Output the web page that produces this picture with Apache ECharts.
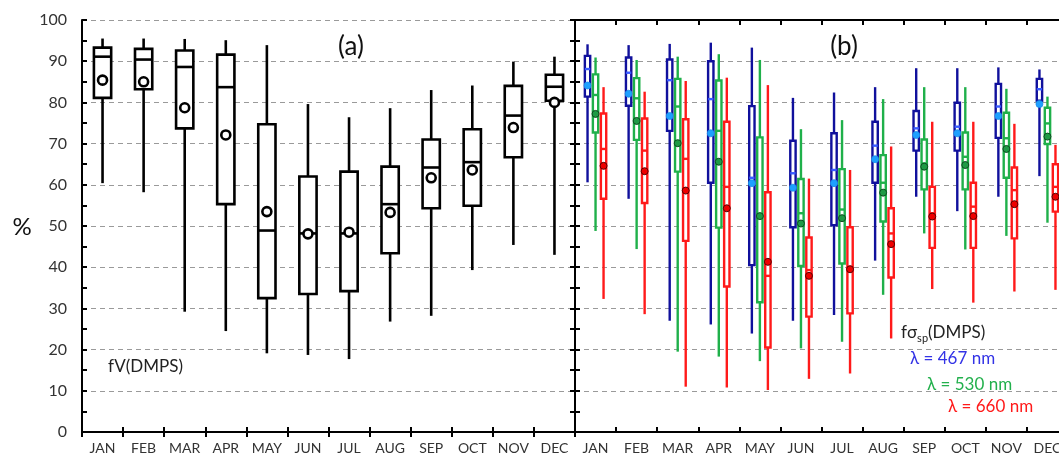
<!DOCTYPE html>
<html>
<head>
<meta charset="utf-8">
<script src="https://cdn.jsdelivr.net/npm/echarts@6/dist/echarts.min.js"></script>
<style>html,body{margin:0;padding:0;background:#fff;}#c{width:1059px;height:454px;}</style>
</head>
<body>
<div id="c"></div>
<script>
// ---------- data ----------
const months = ['JAN','FEB','MAR','APR','MAY','JUN','JUL','AUG','SEP','OCT','NOV','DEC'];
const yTicks = [0,10,20,30,40,50,60,70,80,90,100];

// [min, q1, median, q3, max] per month
const fvBox = [
  [60.4, 81.1, 91.1, 93.3, 95.5],
  [58.2, 83.2, 90.4, 93.0, 95.5],
  [29.2, 73.7, 88.6, 92.6, 95.4],
  [24.5, 55.3, 83.7, 91.6, 95.1],
  [19.1, 32.5, 48.9, 74.7, 93.9],
  [18.7, 33.5, 48.2, 62.0, 79.6],
  [17.7, 34.2, 48.2, 63.2, 76.4],
  [26.8, 43.4, 55.3, 64.4, 78.6],
  [28.2, 54.3, 64.2, 71.0, 83.0],
  [39.3, 54.9, 65.5, 73.5, 84.1],
  [45.4, 66.7, 76.8, 84.0, 89.9],
  [43.0, 80.4, 83.8, 86.7, 91.1]
];
const fvMean = [85.4, 85.0, 78.7, 72.1, 53.5, 48.1, 48.5, 53.3, 61.7, 63.6, 73.9, 80.0];

const b467Box = [
  [60.6, 81.4, 88.1, 91.3, 94.1],
  [56.6, 79.2, 87.2, 90.9, 93.9],
  [27.0, 73.1, 85.4, 90.4, 94.2],
  [26.1, 60.5, 80.8, 90.0, 94.5],
  [23.9, 40.5, 61.7, 79.1, 93.3],
  [27.0, 49.7, 62.8, 70.7, 81.1],
  [28.4, 50.2, 63.6, 72.5, 82.4],
  [41.6, 60.5, 69.5, 75.3, 83.7],
  [57.1, 68.3, 73.7, 77.9, 88.3],
  [53.6, 68.3, 74.1, 79.9, 88.3],
  [57.1, 71.4, 79.0, 84.5, 88.5],
  [62.1, 80.4, 83.2, 85.7, 88.0]
];
const b467Mean = [84.1, 82.1, 76.7, 72.5, 60.4, 59.3, 60.4, 66.2, 72.1, 72.5, 76.7, 79.6];

const b530Box = [
  [48.8, 72.7, 81.8, 86.8, 90.9],
  [44.4, 70.9, 81.0, 85.9, 90.3],
  [19.5, 63.2, 79.0, 85.7, 91.1],
  [18.3, 49.6, 73.1, 85.3, 91.7],
  [17.2, 31.5, 52.5, 71.5, 90.3],
  [20.3, 40.3, 53.1, 61.4, 73.5],
  [21.9, 40.9, 54.0, 63.8, 75.7],
  [33.3, 51.1, 60.5, 67.2, 80.8],
  [48.2, 58.9, 65.2, 71.0, 83.7],
  [44.3, 58.9, 66.8, 72.7, 83.7],
  [47.6, 61.7, 71.3, 77.5, 83.3],
  [50.8, 69.9, 74.9, 78.7, 81.4]
];
const b530Mean = [77.2, 75.5, 70.1, 65.6, 52.4, 50.6, 51.9, 58.1, 64.4, 64.8, 68.7, 71.7];

const b660Box = [
  [32.3, 56.6, 68.7, 77.3, 83.7],
  [28.6, 55.6, 68.3, 76.1, 82.6],
  [11.0, 46.4, 66.3, 75.9, 85.2],
  [10.8, 35.3, 59.5, 75.3, 86.0],
  [10.2, 20.5, 37.9, 58.2, 84.2],
  [12.9, 28.0, 39.3, 47.2, 61.5],
  [14.2, 28.8, 40.1, 49.7, 63.6],
  [22.7, 37.5, 48.2, 54.3, 69.3],
  [34.7, 44.7, 53.1, 59.5, 75.3],
  [31.4, 44.7, 54.7, 60.5, 75.3],
  [34.1, 47.0, 58.7, 64.2, 74.8],
  [34.5, 53.5, 59.5, 65.0, 69.7]
];
const b660Mean = [64.6, 63.3, 58.6, 54.3, 41.3, 37.9, 39.5, 45.6, 52.3, 52.4, 55.3, 57.1];

// ---------- chart ----------
const chart = echarts.init(document.getElementById('c'), null, {renderer: 'canvas'});
const FONT = 'Lato, "Open Sans", sans-serif';

function toItems(box, mean) {
  return box.map((b, i) => [i, b[0], b[1], b[2], b[3], b[4], mean[i]]);
}

function makeBoxRender(cfg) {
  return function (params, api) {
    const i = api.value(0);
    const bw = api.size([1, 0])[0];
    const cx = api.coord([i, 0])[0] + cfg.offset * bw;
    const half = cfg.width * bw / 2;
    const y = k => api.coord([i, api.value(k)])[1];
    const yMin = y(1), yQ1 = y(2), yMed = y(3), yQ3 = y(4), yMax = y(5), yMean = y(6);
    const ls = {stroke: cfg.color, lineWidth: cfg.lw};
    return {
      type: 'group',
      children: [
        {type: 'line', shape: {x1: cx, y1: yMax, x2: cx, y2: yQ3}, style: ls},
        {type: 'line', shape: {x1: cx, y1: yQ1, x2: cx, y2: yMin}, style: ls},
        {type: 'rect', shape: {x: cx - half, y: yQ3, width: half * 2, height: yQ1 - yQ3},
          style: {fill: '#fff', stroke: cfg.color, lineWidth: cfg.lw}},
        {type: 'line', shape: {x1: cx - half, y1: yMed, x2: cx + half, y2: yMed},
          style: {stroke: cfg.medColor, lineWidth: cfg.lw}},
        {type: 'circle', shape: {cx: cx, cy: yMean, r: cfg.r},
          style: {fill: cfg.meanFill, stroke: cfg.meanStroke, lineWidth: cfg.meanLw}}
      ]
    };
  };
}

const gridLine = {show: true, lineStyle: {color: '#9a9a9a', type: [5, 4], width: 1.2}};
const axisLineBlack = {show: true, lineStyle: {color: '#000', width: 2}};

function xAxisDef(gi, pos, labels) {
  return {
    type: 'category', gridIndex: gi, position: pos, data: months,
    boundaryGap: true,
    axisLine: axisLineBlack,
    axisTick: {show: true, inside: true, length: 5, interval: 0, lineStyle: {color: '#000', width: 2}},
    axisLabel: {show: labels, interval: 0, color: '#333', fontSize: 14, fontFamily: FONT, margin: 9},
    splitLine: {show: false}
  };
}
function yAxisDef(gi, pos, labels, split) {
  return {
    type: 'value', gridIndex: gi, position: pos, min: 0, max: 100, interval: 10,
    axisLine: axisLineBlack,
    axisTick: {show: true, inside: true, length: 5, lineStyle: {color: '#000', width: 2}},
    minorTick: {show: true, splitNumber: 2, length: 5, lineStyle: {color: '#000', width: 2}},
    axisLabel: {show: labels, color: '#333', fontSize: 16, fontFamily: FONT, margin: 15,
      formatter: v => (yTicks.indexOf(v) >= 0 ? String(v) : '')},
    splitLine: split ? gridLine : {show: false}
  };
}

const BLUE = '#10109c', GREEN = '#1fb04a', RED = '#ff1a1a';

const option = {
  backgroundColor: '#fff',
  animation: false,
  grid: [
    {left: 82, top: 20, width: 493, height: 412, outerBoundsMode: 'none', containLabel: false},
    {left: 575, top: 20, width: 493, height: 412, outerBoundsMode: 'none', containLabel: false}
  ],
  xAxis: [
    xAxisDef(0, 'bottom', true), xAxisDef(0, 'top', false),
    xAxisDef(1, 'bottom', true), xAxisDef(1, 'top', false)
  ],
  yAxis: [
    yAxisDef(0, 'left', true, true),
    yAxisDef(0, 'right', false, false),
    yAxisDef(1, 'left', false, true)
  ],
  series: [
    {type: 'custom', xAxisIndex: 0, yAxisIndex: 0, encode: {x: 0, y: [1, 2, 3, 4, 5, 6]},
      data: toItems(fvBox, fvMean),
      renderItem: makeBoxRender({offset: 0, width: 0.42, color: '#000', medColor: '#000', lw: 2.6,
        r: 4.5, meanFill: '#fff', meanStroke: '#000', meanLw: 2.6})},
    {type: 'custom', xAxisIndex: 2, yAxisIndex: 2, encode: {x: 0, y: [1, 2, 3, 4, 5, 6]},
      data: toItems(b467Box, b467Mean),
      renderItem: makeBoxRender({offset: -0.195, width: 0.13, color: BLUE, medColor: '#3a5cff', lw: 2.4,
        r: 3.5, meanFill: '#1ea0ff', meanStroke: '#1a8ee8', meanLw: 0.8})},
    {type: 'custom', xAxisIndex: 2, yAxisIndex: 2, encode: {x: 0, y: [1, 2, 3, 4, 5, 6]},
      data: toItems(b530Box, b530Mean),
      renderItem: makeBoxRender({offset: 0, width: 0.13, color: GREEN, medColor: GREEN, lw: 2.4,
        r: 3.5, meanFill: '#1f9a45', meanStroke: '#0c4a1e', meanLw: 1})},
    {type: 'custom', xAxisIndex: 2, yAxisIndex: 2, encode: {x: 0, y: [1, 2, 3, 4, 5, 6]},
      data: toItems(b660Box, b660Mean),
      renderItem: makeBoxRender({offset: 0.195, width: 0.13, color: RED, medColor: RED, lw: 2.4,
        r: 3.5, meanFill: '#ee0000', meanStroke: '#5a0000', meanLw: 1})}
  ],
  graphic: [
    {type: 'text', x: 22, y: 227, style: {text: '%', font: '24px ' + FONT, fill: '#111', align: 'center', verticalAlign: 'middle'}},
    {type: 'text', x: 351, y: 47, style: {text: '(a)', font: '26px ' + FONT, fill: '#111', align: 'center', verticalAlign: 'middle'}},
    {type: 'text', x: 844, y: 47, style: {text: '(b)', font: '26px ' + FONT, fill: '#111', align: 'center', verticalAlign: 'middle'}},
    {type: 'text', x: 108, y: 367, style: {text: 'fV(DMPS)', font: '17px ' + FONT, fill: '#222', align: 'left', verticalAlign: 'middle'}},
    {type: 'text', x: 901, y: 333, style: {
      text: '{n|fσ}{s|sp}{n|(DMPS)}', align: 'left', verticalAlign: 'middle',
      rich: {
        n: {fontSize: 17, fontFamily: FONT, fill: '#222', lineHeight: 22},
        s: {fontSize: 11, fontFamily: FONT, fill: '#222', lineHeight: 11, verticalAlign: 'bottom'}
      }}},
    {type: 'text', x: 910, y: 359, style: {text: 'λ = 467 nm', font: '17px ' + FONT, fill: '#3333e6', align: 'left', verticalAlign: 'middle'}},
    {type: 'text', x: 927, y: 385, style: {text: 'λ = 530 nm', font: '17px ' + FONT, fill: '#22b04c', align: 'left', verticalAlign: 'middle'}},
    {type: 'text', x: 948, y: 407, style: {text: 'λ = 660 nm', font: '17px ' + FONT, fill: '#ff1a1a', align: 'left', verticalAlign: 'middle'}}
  ]
};
chart.setOption(option);
</script>
</body>
</html>
